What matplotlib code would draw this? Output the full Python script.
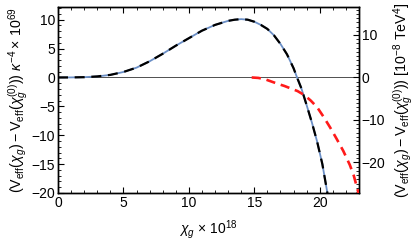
import matplotlib
matplotlib.use('Agg')
import matplotlib.pyplot as plt
from matplotlib.ticker import MultipleLocator

plt.rcParams['font.family'] = ['Liberation Sans', 'DejaVu Sans']
plt.rcParams['mathtext.fontset'] = 'custom'
plt.rcParams['mathtext.rm'] = 'Liberation Sans'
plt.rcParams['mathtext.it'] = 'Liberation Sans:italic'
plt.rcParams['mathtext.bf'] = 'Liberation Sans:bold'

# potential difference, left-axis units (kappa^-4 x 10^69)
chi = [0, 1, 2, 3, 4, 5, 6, 7, 8, 9, 10, 11, 12, 13, 13.5, 14, 14.5, 15, 15.5,
       16, 16.5, 17, 17.5, 18, 18.3, 18.6, 19.0, 19.4, 19.8, 20.2, 20.6, 21.0]
dV = [0, 0.01, 0.05, 0.18, 0.45, 0.95, 1.7, 2.8, 4.1, 5.5, 6.8, 8.1, 9.1, 9.8,
      10.0, 10.1, 10.0, 9.65, 9.1, 8.4, 7.3, 5.8, 4.0, 1.6, -0.2, -1.9, -4.8,
      -7.8, -11.1, -15.0, -20.2, -25.5]

# approximation, right-axis units (10^-8 TeV^4)
chi_r = [14.8, 15.3, 15.8, 16.3, 16.8, 17.3, 17.8, 18.3, 18.8, 19.3, 19.8, 20.3,
         20.8, 21.3, 21.8, 22.3, 22.6, 22.9, 23.0]
dV_r = [0, -0.1, -0.4, -0.95, -1.5, -2.0, -2.6, -3.2, -4.1, -5.4, -7.0, -9.3,
        -11.8, -14.5, -17.3, -20.6, -23.1, -26.5, -27.7]

fig = plt.figure(figsize=(4.18, 2.45), dpi=100)
ax = fig.add_axes([58 / 418, 1 - 193 / 245, (359 - 58) / 418, (193 - 7) / 245])

ax.axhline(0, color='#333333', lw=0.6, zorder=1)
ax.plot(chi, dV, color='#6b8fc6', lw=1.3, zorder=2)
ax.plot(chi, dV, color='black', lw=1.6, dashes=(4.5, 3), zorder=3)

ax.set_xlim(0, 23)
ax.set_ylim(-20, 12.2)
ax.xaxis.set_major_locator(MultipleLocator(5))
ax.xaxis.set_minor_locator(MultipleLocator(1))
ax.yaxis.set_major_locator(MultipleLocator(5))
ax.yaxis.set_minor_locator(MultipleLocator(1))
ax.tick_params(which='both', direction='in', top=True, right=False,
               labelsize=10, pad=2)
ax.tick_params(which='major', length=4, width=0.8)
ax.tick_params(which='minor', length=2, width=0.6)

ax2 = ax.twinx()
ax2.plot(chi_r, dV_r, color='#ff1a1a', lw=1.9, dashes=(3.5, 2.2), zorder=4)
ax2.set_ylim(-20 * 1.36, 12.2 * 1.36)
ax2.yaxis.set_major_locator(MultipleLocator(10))
ax2.yaxis.set_minor_locator(MultipleLocator(1))
ax2.tick_params(which='both', direction='in', labelsize=10, pad=2)
ax2.tick_params(which='major', length=4, width=0.8)
ax2.tick_params(which='minor', length=2, width=0.6)

for a in (ax, ax2):
    for s in a.spines.values():
        s.set_linewidth(1.0)

ax.set_xlabel(r'$\chi_g\,\times\,10^{18}$', fontsize=10, labelpad=6)
ax.set_ylabel(r'$(\mathrm{V}_{\mathrm{eff}}(\chi_g)-\mathrm{V}_{\mathrm{eff}}(\chi_g^{(0)}))\ \kappa^{-4}\times\,10^{69}$',
              fontsize=10.3, labelpad=1)
ax2.set_ylabel(r'$(\mathrm{V}_{\mathrm{eff}}(\chi_g)-\mathrm{V}_{\mathrm{eff}}(\chi_g^{(0)}))\ [10^{-8}\ \mathrm{TeV}^4]$',
               fontsize=10.3, labelpad=4)

fig.savefig('out.png', dpi=100)
